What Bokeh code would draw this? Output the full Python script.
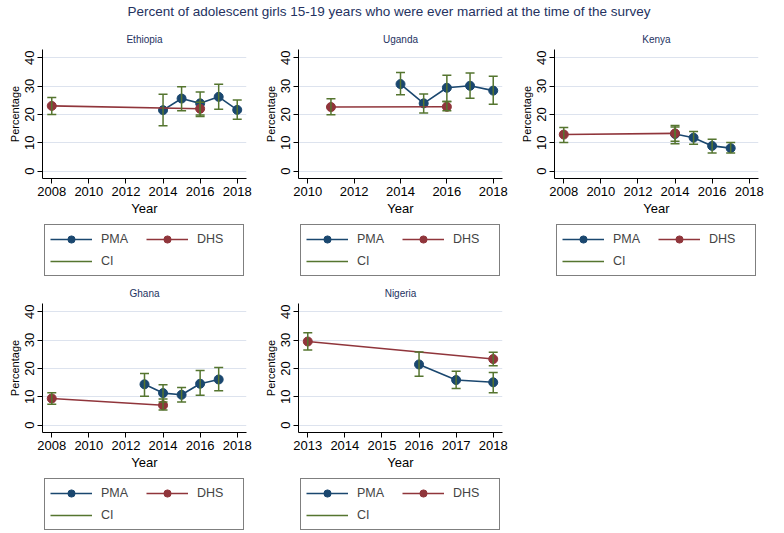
import math
from bokeh.plotting import figure
from bokeh.layouts import gridplot, column
from bokeh.models import Div, Legend, LegendItem, FixedTicker, Range1d
from bokeh.embed import file_html
from bokeh.resources import INLINE

TITLE = "Percent of adolescent girls 15-19 years who were ever married at the time of the survey"

# ---------------- data ----------------
eth_pma_year = [2014, 2015, 2016, 2017, 2018]
eth_pma = [21.5, 25.6, 23.9, 26.2, 21.6]
eth_pma_lo = [16.0, 21.3, 19.3, 21.8, 18.3]
eth_pma_hi = [27.1, 29.8, 27.9, 30.6, 25.1]
eth_dhs_year = [2008, 2016]
eth_dhs = [23.0, 22.0]
eth_dhs_lo = [20.0, 19.8]
eth_dhs_hi = [26.0, 24.3]
eth_ticks = [2008, 2010, 2012, 2014, 2016, 2018]

uga_pma_year = [2014, 2015, 2016, 2017, 2018]
uga_pma = [30.7, 23.9, 29.4, 30.1, 28.4]
uga_pma_lo = [26.9, 20.5, 24.6, 25.7, 23.6]
uga_pma_hi = [34.8, 27.2, 33.8, 34.6, 33.5]
uga_dhs_year = [2011, 2016]
uga_dhs = [22.6, 22.7]
uga_dhs_lo = [19.9, 21.3]
uga_dhs_hi = [25.5, 24.6]
uga_ticks = [2010, 2012, 2014, 2016, 2018]

ken_pma_year = [2014, 2015, 2016, 2017]
ken_pma = [13.1, 11.8, 8.9, 8.1]
ken_pma_lo = [10.5, 9.5, 6.4, 6.4]
ken_pma_hi = [15.6, 14.0, 11.2, 10.1]
ken_dhs_year = [2008, 2014]
ken_dhs = [12.9, 13.3]
ken_dhs_lo = [10.1, 9.7]
ken_dhs_hi = [15.4, 16.1]
ken_ticks = [2008, 2010, 2012, 2014, 2016, 2018]

gha_pma_year = [2013, 2014, 2015, 2016, 2017]
gha_pma = [14.4, 11.3, 10.7, 14.6, 16.1]
gha_pma_lo = [10.2, 8.2, 8.2, 10.5, 12.1]
gha_pma_hi = [18.2, 14.2, 13.3, 19.3, 20.3]
gha_dhs_year = [2008, 2014]
gha_dhs = [9.4, 7.0]
gha_dhs_lo = [7.4, 5.3]
gha_dhs_hi = [11.4, 9.2]
gha_ticks = [2008, 2010, 2012, 2014, 2016, 2018]

nga_pma_year = [2016, 2017, 2018]
nga_pma = [21.4, 15.9, 15.1]
nga_pma_lo = [17.2, 12.9, 11.4]
nga_pma_hi = [25.8, 19.0, 18.6]
nga_dhs_year = [2013, 2018]
nga_dhs = [29.5, 23.3]
nga_dhs_lo = [26.5, 20.9]
nga_dhs_hi = [32.6, 25.7]
nga_ticks = [2013, 2014, 2015, 2016, 2017, 2018]

y_ticks = [0, 10, 20, 30, 40]
series_labels = ["PMA", "DHS", "CI"]

PMA_C = "#1a476f"
DHS_C = "#90353b"
CI_C = "#55752f"
TITLE_C = "#24325f"
FONT = "Liberation Sans"
W = 256
NAN = [math.nan]


def panel(name, pyear, pval, plo, phi, dyear, dval, dlo, dhi, ticks, xr):
    p = figure(width=W, height=192, output_backend="svg", toolbar_location=None,
               x_range=Range1d(*xr), y_range=Range1d(-2.6, 42.9),
               min_border_left=42, min_border_right=10, min_border_top=0, min_border_bottom=0)
    p.title.text = name
    p.title.align = "center"
    p.title.text_font = FONT
    p.title.text_font_size = "10px"
    p.title.text_font_style = "normal"
    p.title.text_color = TITLE_C
    p.outline_line_color = None
    p.background_fill_color = "white"
    p.border_fill_color = "white"

    p.xgrid.grid_line_color = None
    p.ygrid.grid_line_color = "#dde3ee"

    p.xaxis.ticker = FixedTicker(ticks=ticks)
    p.yaxis.ticker = FixedTicker(ticks=y_ticks)
    p.xaxis.axis_label = "Year"
    p.yaxis.axis_label = "Percentage"
    for ax in (p.xaxis, p.yaxis):
        ax.axis_line_color = "black"
        ax.major_tick_line_color = "black"
        ax.major_tick_out = 5
        ax.major_tick_in = 0
        ax.minor_tick_line_color = None
        ax.major_label_text_font = FONT
        ax.major_label_text_font_size = "13px"
        ax.major_label_text_color = "black"
        ax.axis_label_text_font = FONT
        ax.axis_label_text_font_style = "normal"
        ax.axis_label_text_color = "black"
        ax.major_label_standoff = 3
        ax.axis_label_standoff = 2
    p.xaxis.axis_label_text_font_size = "13px"
    p.yaxis.axis_label_text_font_size = "11px"
    p.yaxis.major_label_orientation = "vertical"

    p.line(pyear, pval, line_color=PMA_C, line_width=1.6)
    p.scatter(pyear, pval, size=9, fill_color=PMA_C, line_color=PMA_C)
    p.line(dyear, dval, line_color=DHS_C, line_width=1.6)
    p.scatter(dyear, dval, size=9, fill_color=DHS_C, line_color=DHS_C)

    cx = list(pyear) + list(dyear)
    clo = list(plo) + list(dlo)
    chi = list(phi) + list(dhi)
    p.segment(x0=cx, y0=clo, x1=cx, y1=chi, line_color=CI_C, line_width=1.5)
    p.scatter(cx, clo, marker="dash", size=9, line_color=CI_C, line_width=1.5)
    p.scatter(cx, chi, marker="dash", size=9, line_color=CI_C, line_width=1.5)
    return p


def legend_fig():
    f = figure(width=W, height=62, output_backend="svg", toolbar_location=None,
               x_range=Range1d(0, 1), y_range=Range1d(0, 1),
               min_border_left=42, min_border_right=10, min_border_top=0, min_border_bottom=0)
    f.axis.visible = False
    f.grid.visible = False
    f.outline_line_color = None
    pl = f.line(x=NAN, y=NAN, line_color=PMA_C, line_width=1.6)
    pm = f.scatter(x=NAN, y=NAN, size=9, fill_color=PMA_C, line_color=PMA_C)
    dl = f.line(x=NAN, y=NAN, line_color=DHS_C, line_width=1.6)
    dm = f.scatter(x=NAN, y=NAN, size=9, fill_color=DHS_C, line_color=DHS_C)
    cl = f.segment(x0=NAN, y0=NAN, x1=NAN, y1=NAN, line_color=CI_C, line_width=1.5)
    legend = Legend(items=[LegendItem(label=series_labels[0], renderers=[pl, pm]),
                           LegendItem(label=series_labels[1], renderers=[dl, dm]),
                           LegendItem(label=series_labels[2], renderers=[cl])],
                    orientation="horizontal", ncols=2, location="top_center",
                    border_line_color="black", border_line_width=1,
                    background_fill_color="white", background_fill_alpha=1,
                    label_text_font=FONT, label_text_font_size="12.5px",
                    glyph_width=42, glyph_height=18, label_height=18,
                    label_width=41, label_standoff=9, spacing=4, padding=5,
                    margin=6)
    f.add_layout(legend, "center")
    return f


p1 = panel("Ethiopia", eth_pma_year, eth_pma, eth_pma_lo, eth_pma_hi,
           eth_dhs_year, eth_dhs, eth_dhs_lo, eth_dhs_hi, eth_ticks, (2007.5, 2018.5))
p2 = panel("Uganda", uga_pma_year, uga_pma, uga_pma_lo, uga_pma_hi,
           uga_dhs_year, uga_dhs, uga_dhs_lo, uga_dhs_hi, uga_ticks, (2009.6, 2018.4))
p3 = panel("Kenya", ken_pma_year, ken_pma, ken_pma_lo, ken_pma_hi,
           ken_dhs_year, ken_dhs, ken_dhs_lo, ken_dhs_hi, ken_ticks, (2007.5, 2018.5))
p4 = panel("Ghana", gha_pma_year, gha_pma, gha_pma_lo, gha_pma_hi,
           gha_dhs_year, gha_dhs, gha_dhs_lo, gha_dhs_hi, gha_ticks, (2007.5, 2018.5))
p5 = panel("Nigeria", nga_pma_year, nga_pma, nga_pma_lo, nga_pma_hi,
           nga_dhs_year, nga_dhs, nga_dhs_lo, nga_dhs_hi, nga_ticks, (2012.75, 2018.25))

title = Div(text=TITLE, width=768, height=16,
            styles={"text-align": "center", "width": "768px", "font-family": FONT,
                    "font-size": "13.5px", "color": TITLE_C, "line-height": "14px"})

grid = gridplot([[p1, p2, p3],
                 [legend_fig(), legend_fig(), legend_fig()],
                 [p4, p5, None],
                 [legend_fig(), legend_fig(), None]], toolbar_location=None)
layout = column(title, grid)

open("out.html", "w").write(file_html(layout, INLINE))
